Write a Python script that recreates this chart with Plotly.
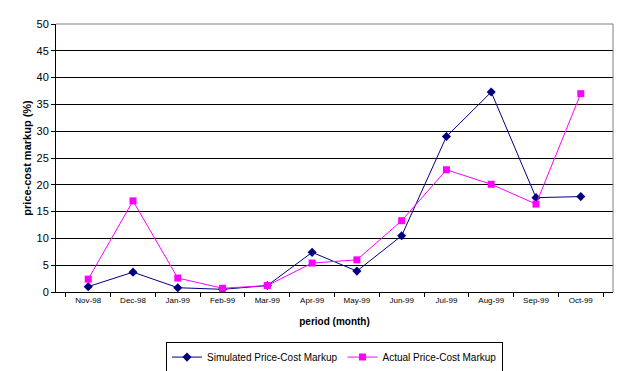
import plotly.graph_objects as go

months = ["Nov-98", "Dec-98", "Jan-99", "Feb-99", "Mar-99", "Apr-99",
          "May-99", "Jun-99", "Jul-99", "Aug-99", "Sep-99", "Oct-99"]
simulated = [1.0, 3.7, 0.8, 0.5, 1.2, 7.4, 3.9, 10.5, 29.0, 37.3, 17.6, 17.8]
actual = [2.4, 17.0, 2.6, 0.7, 1.2, 5.4, 6.0, 13.3, 22.8, 20.1, 16.4, 37.0]
y_ticks = [0, 5, 10, 15, 20, 25, 30, 35, 40, 45, 50]

fig = go.Figure()
fig.add_trace(go.Scatter(
    x=months, y=simulated, mode="lines+markers",
    name="Simulated Price-Cost Markup",
    line=dict(color="#000080", width=1),
    marker=dict(symbol="diamond", size=7, color="#000080"),
))
fig.add_trace(go.Scatter(
    x=months, y=actual, mode="lines+markers",
    name="Actual Price-Cost Markup",
    line=dict(color="#FF00FF", width=1),
    marker=dict(symbol="square", size=7, color="#FF00FF"),
))

fig.update_layout(
    width=643, height=371,
    margin=dict(l=56, r=30, t=24, b=79, autoexpand=False),
    paper_bgcolor="white", plot_bgcolor="white",
    font=dict(family="Liberation Sans, Arial, sans-serif", color="black"),
    showlegend=True,
    legend=dict(
        orientation="h", x=0.5, xanchor="center", y=-0.185, yanchor="top",
        bordercolor="black", borderwidth=1, bgcolor="white",
        font=dict(size=10), itemwidth=30, tracegroupgap=0,
    ),
    xaxis=dict(
        type="category", tickson="boundaries", ticks="outside", ticklen=4,
        tickcolor="black", showline=True, linecolor="black", linewidth=1,
        showgrid=False, tickfont=dict(size=8), tickangle=0, automargin=False,
        title=dict(text="<b>period (month)</b>", font=dict(size=10), standoff=14),
    ),
    yaxis=dict(
        range=[0, 50], tickvals=y_ticks, ticks="outside", ticklen=4,
        tickcolor="black", showline=True, linecolor="black", linewidth=1,
        showgrid=True, gridcolor="black", gridwidth=1, zeroline=False,
        tickfont=dict(size=11), automargin=False,
        title=dict(text="<b>price-cost markup (%)</b>", font=dict(size=11), standoff=2),
    ),
    shapes=[
        dict(type="line", xref="paper", yref="paper", x0=0, x1=1, y0=1, y1=1,
             line=dict(color="#808080", width=1), layer="above"),
        dict(type="line", xref="paper", yref="paper", x0=1, x1=1, y0=0, y1=1,
             line=dict(color="#808080", width=1), layer="above"),
    ],
)

fig.write_html(
    "out.html",
    config={"displayModeBar": False},
    post_script="document.body.style.margin='0';document.body.style.overflow='hidden';",
)
